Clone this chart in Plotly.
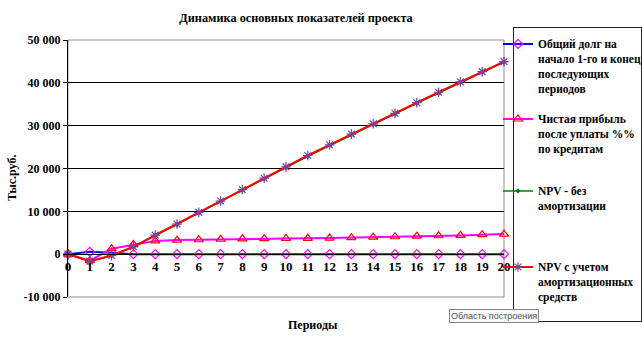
import plotly.graph_objects as go

periods = list(range(0, 21))
debt = [0, 550, 350, 0, 0, 0, 0, 0, 0, 0, 0, 0, 0, 0, 0, 0, 0, 0, 0, 0, 0]
net_profit = [0, -1500, 1260, 2250, 3100, 3280, 3370, 3480, 3580, 3620, 3660, 3700, 3760, 3840, 3980, 4070, 4200, 4300, 4380, 4540, 4680]
npv_no_amort = [0, -1640, -350, 1650, 4350, 6900, 9650, 12250, 14900, 17550, 20200, 22850, 25350, 27850, 30250, 32700, 35200, 37600, 40050, 42450, 44800]
npv_amort = [0, -1640, -300, 1730, 4450, 7030, 9770, 12400, 15080, 17730, 20370, 23040, 25530, 28030, 30440, 32880, 35360, 37800, 40210, 42620, 44960]

names = [
    ["Общий долг на", "начало 1-го и конец", "последующих", "периодов"],
    ["Чистая прибыль", "после уплаты %%", "по кредитам"],
    ["NPV - без", "амортизации"],
    ["NPV с учетом", "амортизационных", "средств"],
]
y_ticks = [-10000, 0, 10000, 20000, 30000, 40000, 50000]
y_ticktext = ["-10 000", "0", "10 000", "20 000", "30 000", "40 000", "50 000"]

title_text = "Динамика основных показателей проекта"
x_title = "Периоды"
y_title = "Тыс.руб."

SERIF = "Liberation Serif, Times New Roman, serif"
W, H = 642, 354
PL, PR, PT, PB = 68, 504, 40, 297
PW, PH = PR - PL, PB - PT


def px_x(x):
    return (x - PL) / PW


def px_y(y):
    return (PB - y) / PH


def bold_lines(lines):
    return "<br>".join("<b>%s</b>" % s for s in lines)


fig = go.Figure()
fig.add_trace(go.Scatter(x=periods, y=debt, name=bold_lines(names[0]), mode="lines+markers",
                         line=dict(color="#0000FF", width=2),
                         marker=dict(symbol="diamond-open", color="#FF00FF", size=7, line=dict(width=1.2)),
                         cliponaxis=False, legend="legend"))
fig.add_trace(go.Scatter(x=periods, y=net_profit, name=bold_lines(names[1]), mode="lines+markers",
                         line=dict(color="#FF00FF", width=2),
                         marker=dict(symbol="triangle-up-open", color="#FF0000", size=8, line=dict(width=1.2)),
                         cliponaxis=False, legend="legend2"))
fig.add_trace(go.Scatter(x=periods, y=npv_no_amort, name=bold_lines(names[2]), mode="lines+markers",
                         line=dict(color="#008000", width=1.5),
                         marker=dict(symbol="diamond", color="#008000", size=4),
                         cliponaxis=False, legend="legend3"))
fig.add_trace(go.Scatter(x=periods, y=npv_amort, name=bold_lines(names[3]), mode="lines+markers",
                         line=dict(color="#FF0000", width=2),
                         marker=dict(symbol="asterisk-open", color="#8040A0", size=8, line=dict(width=1.2, color="#8040A0")),
                         cliponaxis=False, legend="legend4"))


def legend_at(top_px):
    return dict(x=498 / W, xanchor="left", y=1 - top_px / H, yanchor="top",
                xref="container", yref="container", valign="top",
                bgcolor="rgba(0,0,0,0)", borderwidth=0,
                font=dict(family=SERIF, size=11.5, color="black"))


fig.update_layout(
    width=W, height=H,
    margin=dict(l=PL, r=W - PR, t=PT, b=H - PB, autoexpand=False),
    plot_bgcolor="white", paper_bgcolor="white",
    font=dict(family=SERIF, color="black", size=12),
    title=dict(text="<b>" + title_text + "</b>", x=296 / W, xanchor="center",
               y=1 - 18 / H, yanchor="middle", xref="container", yref="container",
               font=dict(family=SERIF, size=12.3, color="black")),
    xaxis=dict(range=[0, 20], tickvals=periods, ticktext=["<b>%d</b>" % p for p in periods],
               anchor="free", position=1 / 6, showgrid=False, showline=True,
               linecolor="black", linewidth=1, ticks="", zeroline=False,
               tickfont=dict(family=SERIF, size=13, color="black")),
    yaxis=dict(range=[-10000, 50000], tickvals=y_ticks, ticktext=["<b>%s</b>" % t for t in y_ticktext],
               showgrid=True, gridcolor="black", gridwidth=1, showline=True,
               linecolor="black", linewidth=1, ticks="outside", ticklen=4, tickcolor="black",
               zeroline=False, tickfont=dict(family=SERIF, size=12, color="black")),
    legend=legend_at(30),
    legend2=legend_at(105),
    legend3=legend_at(177),
    legend4=legend_at(253),
    showlegend=True,
)

# plot-area border
fig.add_shape(type="rect", xref="paper", yref="paper", x0=0, x1=1, y0=0, y1=1,
              line=dict(color="#909090", width=1), layer="below")
# legend frame as four thin filled bars
frame_bars = [
    (513, 514, 27, 322),   # left
    (513, 642, 27, 28),    # top
    (513, 642, 321, 322),  # bottom
    (641, 642, 27, 322),   # right
]
for (xa, xb, ya, yb) in frame_bars:
    fig.add_shape(type="rect", xref="paper", yref="paper",
                  x0=px_x(xa), x1=px_x(xb), y0=px_y(yb), y1=px_y(ya),
                  fillcolor="#202020", line=dict(width=0), layer="above")

fig.add_annotation(text="<b>" + x_title + "</b>", xref="paper", yref="paper",
                   x=px_x(313), y=px_y(325), xanchor="center", yanchor="middle",
                   showarrow=False, font=dict(family=SERIF, size=12, color="black"))
fig.add_annotation(text="<b>" + y_title + "</b>", xref="paper", yref="paper",
                   x=px_x(12), y=px_y(178), xanchor="center", yanchor="middle",
                   showarrow=False, textangle=-90,
                   font=dict(family=SERIF, size=12, color="black"))
fig.add_annotation(text="Область построения", xref="paper", yref="paper",
                   x=px_x(494), y=px_y(316), xanchor="center", yanchor="middle",
                   showarrow=False,
                   font=dict(family="Liberation Sans, Arial, sans-serif", size=9, color="#555555"),
                   bgcolor="#f7f7f7", bordercolor="#888888", borderwidth=1, borderpad=1)

fig.write_html("out.html")
